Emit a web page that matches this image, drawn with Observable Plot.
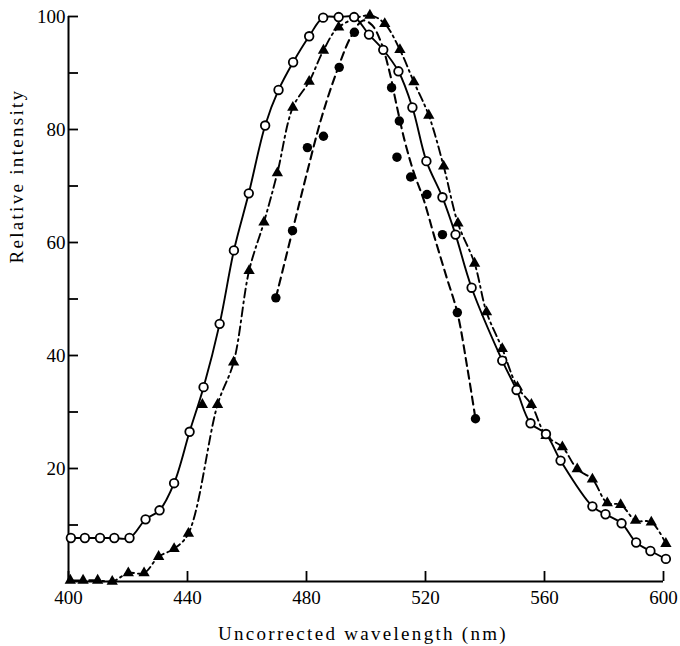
<!DOCTYPE html>
<html><head><meta charset="utf-8">
<script src="https://cdn.jsdelivr.net/npm/d3@7"></script>
<script src="https://cdn.jsdelivr.net/npm/@observablehq/plot@0.6"></script>
<style>body{margin:0;background:#fff}#chart{width:680px;height:646px}</style>
</head><body><div id="chart"></div>
<script>
// Open circles (solid line)
const openX = [400.8,405.5,410.6,415.4,420.5,425.9,430.6,435.5,440.7,445.4,450.8,455.6,460.6,466.1,470.6,475.5,480.9,485.6,490.8,496.0,501.0,505.8,510.9,515.6,520.3,525.7,530.1,535.5,545.8,550.6,555.3,560.5,565.4,576.1,580.5,585.9,590.8,595.6,600.8];
const openY = [7.7,7.7,7.7,7.7,7.7,11.0,12.6,17.4,26.5,34.4,45.6,58.6,68.7,80.7,87.0,91.9,96.5,99.8,99.9,99.9,96.8,94.1,90.3,83.9,74.4,68.0,61.4,52.0,39.1,33.9,28.0,26.1,21.4,13.3,11.9,10.3,6.9,5.4,4.0];
// Filled triangles (dash-dot line)
const triX = [400.6,404.9,409.8,414.7,420.1,425.4,430.3,435.5,440.3,445.0,450.1,455.5,460.7,465.7,470.2,475.4,480.9,485.7,490.8,501.3,506.3,511.4,516.1,521.1,526.1,530.9,536.5,540.5,545.8,550.9,555.6,560.5,566.0,571.0,576.1,581.1,585.6,590.6,595.9,600.8];
const triY = [0.2,0.2,0.2,0,1.5,1.5,4.4,5.8,8.5,31.3,31.3,38.8,55.0,63.6,72.3,83.9,88.5,94.0,98.1,100.2,98.7,94.1,88.4,82.5,73.5,63.4,56.3,47.7,41.2,34.4,31.3,25.8,23.8,19.9,18.1,13.9,13.6,10.8,10.5,6.7];
// Filled circles (dashed line)
const dotX = [469.7,475.3,480.3,485.7,491.0,496.1,508.6,511.2,510.4,515.0,520.5,525.7,530.7,536.8];
const dotY = [50.2,62.1,76.8,78.8,91.0,97.2,87.4,81.5,75.1,71.6,68.5,61.4,47.6,28.8];
// Dashed fitted curve as drawn
const dashCurveX = [469.7,475.3,480,485,490,495,499,502,505,508,510,513,516,519.5,523,527,530.7,534,536.8];
const dashCurveY = [50.2,62.1,72,82,90,96.5,99.3,98.5,95.5,90,85,78,72.5,67.4,61,54,47.6,38,28.8];
// Axis ticks
const xTicks = [400,440,480,520,560,600];
const yTicks = [10,20,30,40,50,60,70,80,90,100];
const yLabeled = [20,40,60,80,100];
const xTitle = "Uncorrected wavelength (nm)";
const yTitle = "Relative intensity";

const openData = openX.map((x,i)=>({x, y:openY[i]}));
const triData = triX.map((x,i)=>({x, y:triY[i]}));
const triLine = triData.filter(d => d.x !== 445.0);
const dotData = dotX.map((x,i)=>({x, y:dotY[i]}));
const dashData = dashCurveX.map((x,i)=>({x, y:dashCurveY[i]}));

const chart = Plot.plot({
  width: 680, height: 646,
  marginLeft: 68, marginRight: 17, marginTop: 16, marginBottom: 65,
  x: {domain: [400, 600]},
  y: {domain: [0, 100]},
  style: {fontFamily: "'Liberation Serif', 'Times New Roman', serif", fontSize: "19px", color: "black", background: "white"},
  marks: [
    Plot.ruleY([0], {strokeWidth: 2}),
    Plot.ruleX([400], {strokeWidth: 2}),
    Plot.axisX(xTicks, {tickSize: -10, tickPadding: 19, strokeWidth: 1.8, fontSize: 19, label: null, tickFormat: d => String(d)}),
    Plot.axisY(yTicks, {tickSize: -10, tickPadding: 13, strokeWidth: 1.8, fontSize: 19, label: null, tickFormat: d => yLabeled.includes(d) ? String(d) : ""}),
    Plot.line(openData, {x: "x", y: "y", curve: "catmull-rom", stroke: "black", strokeWidth: 1.9}),
    Plot.line(triLine, {x: "x", y: "y", curve: "catmull-rom", stroke: "black", strokeWidth: 1.9, strokeDasharray: "9,4,2,4"}),
    Plot.line(dashData, {x: "x", y: "y", curve: "catmull-rom", stroke: "black", strokeWidth: 2.1, strokeDasharray: "8,5"}),
    Plot.dot(triData, {x: "x", y: "y", symbol: "triangle", r: 4.2, fill: "black", stroke: "none"}),
    Plot.dot(dotData, {x: "x", y: "y", r: 4.7, fill: "black", stroke: "none"}),
    Plot.dot(openData, {x: "x", y: "y", r: 4.3, fill: "white", stroke: "black", strokeWidth: 1.8}),
    Plot.text([xTitle], {frameAnchor: "bottom", lineAnchor: "middle", dy: 52.5, dx: -3, fontSize: 19, text: d => d}),
    Plot.text([yTitle], {frameAnchor: "left", rotate: -90, lineAnchor: "middle", dx: -51.5, dy: -35.5, fontSize: 19, text: d => d})
  ]
});
d3.select(chart).selectAll("text").filter(function(){ return this.textContent === xTitle || this.textContent === yTitle; })
  .attr("letter-spacing", "2.3px");
document.getElementById("chart").appendChild(chart);
</script>
</body></html>
